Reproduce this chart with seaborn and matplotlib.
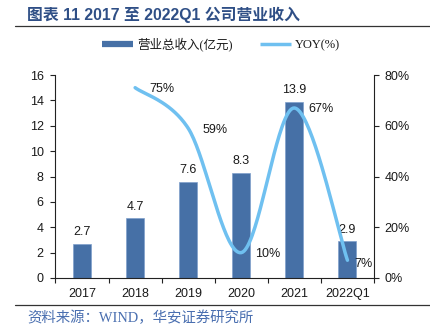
import numpy as np
import matplotlib
matplotlib.use("Agg")
import matplotlib.pyplot as plt
from matplotlib.lines import Line2D
from matplotlib.ticker import FuncFormatter, FixedLocator
import seaborn as sns

# Annual revenue (100 million CNY) and year-over-year growth (%)
categories = ["2017", "2018", "2019", "2020", "2021", "2022Q1"]
revenue = [2.7, 4.7, 7.6, 8.3, 13.9, 2.9]
yoy = [np.nan, 75, 59, 10, 67, 7]
left_ticks = [0, 2, 4, 6, 8, 10, 12, 14, 16]
right_ticks = [0, 20, 40, 60, 80]

title_text = "图表 11 2017 至 2022Q1 公司营业收入"
source_text = "资料来源：WIND，华安证券研究所"
bar_label_name = "营业总收入(亿元)"
line_label_name = "YOY(%)"

BAR_COLOR = "#4670a6"
LINE_COLOR = "#6fc0f0"
TITLE_COLOR = "#2f4f86"
SOURCE_COLOR = "#4a6fb0"

sns.set_style("ticks")
plt.rcParams["font.family"] = ["Liberation Sans", "Noto Sans CJK SC"]
plt.rcParams["axes.unicode_minus"] = False

fig = plt.figure(figsize=(4.31, 3.31), dpi=100)
ax = fig.add_axes([55.5 / 431, 1 - 278 / 331, (374 - 55.5) / 431, (278 - 75) / 331])

sns.barplot(x=categories, y=revenue, color=BAR_COLOR, saturation=1, width=0.34,
            edgecolor="#7fa0cc", linewidth=0.5, ax=ax)
ax.set_xlim(-0.5, len(categories) - 0.5)
ax.set_ylim(left_ticks[0], left_ticks[-1])
ax.set_yticks(left_ticks)
ax.bar_label(ax.containers[0], labels=[f"{v:.1f}" for v in revenue],
             padding=4, fontsize=9, color="#1a1a1a")

# Growth line drawn as a smooth Catmull-Rom curve through the data points
ax2 = ax.twinx()
pts = [(i, v) for i, v in enumerate(yoy) if not np.isnan(v)]
px = np.array([p[0] for p in pts], dtype=float)
py = np.array([p[1] for p in pts], dtype=float)
curve_x, curve_y = [], []
for k in range(len(px) - 1):
    p0 = np.array([px[max(k - 1, 0)], py[max(k - 1, 0)]])
    p1 = np.array([px[k], py[k]])
    p2 = np.array([px[k + 1], py[k + 1]])
    p3 = np.array([px[min(k + 2, len(px) - 1)], py[min(k + 2, len(px) - 1)]])
    c1 = p1 + (p2 - p0) / 6
    c2 = p2 - (p3 - p1) / 6
    t = np.linspace(0, 1, 40)[:, None]
    seg = ((1 - t) ** 3) * p1 + 3 * ((1 - t) ** 2) * t * c1 + 3 * (1 - t) * t ** 2 * c2 + t ** 3 * p2
    curve_x.extend(seg[:, 0])
    curve_y.extend(seg[:, 1])
sns.lineplot(x=curve_x, y=curve_y, sort=False, color=LINE_COLOR, linewidth=2.5,
             ax=ax2, solid_capstyle="round")
ax2.set_ylim(right_ticks[0], right_ticks[-1])
ax2.set_yticks(right_ticks)
ax2.yaxis.set_major_formatter(FuncFormatter(lambda v, _: f"{v:.0f}%"))
ax2.set_xlim(ax.get_xlim())

last = len(px) - 1
for k, (xv, yv) in enumerate(zip(px, py)):
    if k == last:
        ax2.annotate(f"{yv:.0f}%", xy=(ax.get_xlim()[1], yv), xytext=(-1, -3),
                     textcoords="offset points", ha="right", va="center",
                     fontsize=9, color="#1a1a1a")
    else:
        ax2.annotate(f"{yv:.0f}%", xy=(xv, yv), xytext=(10, -1),
                     textcoords="offset points", ha="left", va="center",
                     fontsize=9, color="#1a1a1a")

# Axes styling
for a in (ax, ax2):
    a.spines["top"].set_visible(False)
    for s in a.spines.values():
        s.set_linewidth(0.8)
        s.set_color("#222222")
ax.spines["right"].set_visible(False)
ax2.spines["left"].set_visible(False)
ax2.spines["bottom"].set_visible(False)

ax.tick_params(axis="y", direction="out", length=3.5, width=0.8, pad=5,
               labelsize=9, colors="#222222", labelcolor="#1a1a1a")
ax2.tick_params(axis="y", direction="out", length=3.5, width=0.8, pad=4,
                labelsize=9, colors="#222222", labelcolor="#1a1a1a")
ax.tick_params(axis="x", which="major", length=0, pad=7, labelsize=9, labelcolor="#1a1a1a")
ax.xaxis.set_minor_locator(FixedLocator(np.arange(-0.5, len(categories), 1.0)))
ax.tick_params(axis="x", which="minor", direction="out", length=3.5, width=0.8, colors="#222222")
ax.set_xlabel("")
ax.set_ylabel("")
ax2.set_ylabel("")

# Legend
handles = [Line2D([], [], color=BAR_COLOR, linewidth=4.5, solid_capstyle="butt"),
           Line2D([], [], color=LINE_COLOR, linewidth=2.5, solid_capstyle="butt")]
leg = fig.legend(handles, [bar_label_name, line_label_name], loc="center",
                 bbox_to_anchor=(0.513, 1 - 44 / 331), ncol=2, frameon=False,
                 fontsize=9, handlelength=2.5, handletextpad=0.3, columnspacing=2.2)
for txt in leg.get_texts():
    txt.set_fontfamily(["Liberation Serif", "Noto Sans CJK SC"])
    txt.set_color("#1a1a1a")

# Title, rules and source note
fig.text(27 / 431, 1 - 15 / 331, title_text, fontsize=11.4, fontweight="bold",
         color=TITLE_COLOR, ha="left", va="center",
         fontfamily=["Liberation Sans", "Noto Sans CJK SC"])
fig.add_artist(Line2D([15 / 431, 1], [1 - 25.5 / 331] * 2, color="#333333", linewidth=0.9))
fig.add_artist(Line2D([15 / 431, 1], [1 - 305 / 331] * 2, color="#333333", linewidth=0.9))
fig.text(27 / 431, 1 - 318 / 331, source_text, fontsize=10.4, color=SOURCE_COLOR,
         ha="left", va="center", fontfamily=["Liberation Serif", "Noto Sans CJK SC"])

fig.savefig("out.png", dpi=100)
